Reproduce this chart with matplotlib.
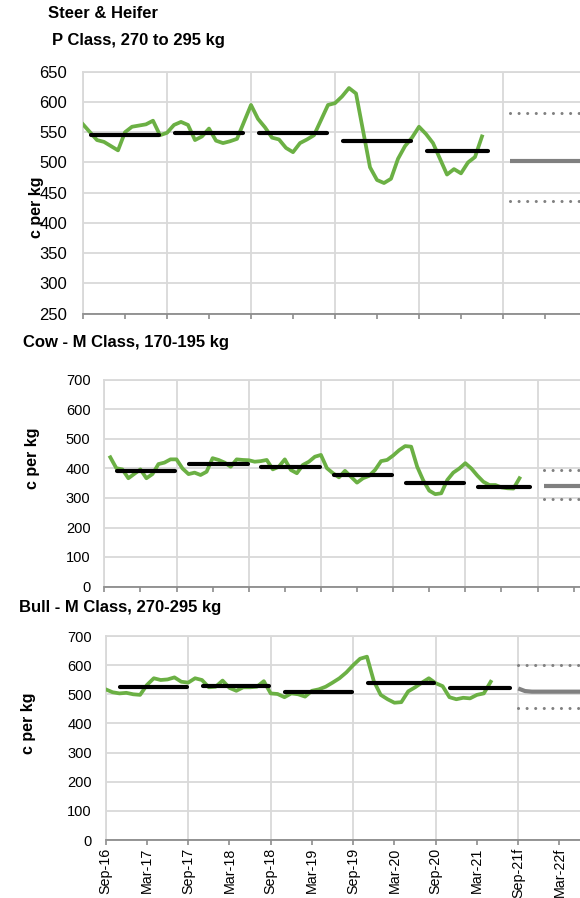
import matplotlib
matplotlib.use('Agg')
import matplotlib.pyplot as plt
import numpy as np

plt.rcParams['font.family'] = ['Liberation Sans', 'DejaVu Sans']

W, H = 580, 898

# ---------------- data ----------------
# Steer & Heifer (months from Sep-16)
steer_start = 0
steer = [563, 550, 537, 534, 527, 520, 550, 559, 561, 563, 569, 545,
         549, 562, 567, 562, 537, 543, 556, 536, 532, 535, 539, 567,
         595, 572, 558, 541, 538, 524, 517, 532, 538, 545, 570, 595,
         598, 609, 623, 614, 553, 492, 471, 466, 473, 506, 527, 541,
         559, 547, 532, 506, 480, 489, 482, 500, 509, 543]
steer_avg = [545, 549, 548, 536, 519]
steer_fc_start = 61
steer_fc = [502] * 12
steer_fc_hi = [581] * 12
steer_fc_lo = [437] * 12

# Cow (months from Sep-15)
cow_start = 1
cow = [438, 401, 397, 367, 382, 397, 367, 381, 415, 420, 431, 431,
       400, 381, 386, 378, 389, 435, 429, 420, 406, 431, 429, 428,
       423, 425, 429, 397, 406, 431, 395, 384, 412, 423, 440, 446,
       401, 384, 370, 392, 372, 352, 367, 375, 395, 425, 429, 444,
       462, 476, 474, 406, 360, 325, 313, 316, 361, 386, 400, 418,
       400, 376, 355, 344, 344, 336, 333, 332, 367]
cow_avg = [393, 414, 404, 378, 350, 338]
cow_fc_start = 73
cow_fc = [342] * 12
cow_fc_hi = [395] * 12
cow_fc_lo = [297] * 12

# Bull (months from Sep-16)
bull_start = 0
bull = [517, 507, 503, 505, 500, 498, 532, 555, 549, 551, 558, 543,
        540, 555, 549, 524, 526, 547, 522, 512, 524, 524, 526, 545,
        503, 501, 490, 503, 500, 492, 512, 517, 526, 540, 555, 575,
        600, 622, 629, 545, 498, 483, 471, 473, 510, 524, 540, 555,
        538, 528, 490, 483, 488, 486, 498, 503, 543]
bull_avg = [524, 528, 507, 538, 520]
bull_fc_start = 60
bull_fc = [520, 511, 509, 509, 509, 509, 509, 509, 509, 509, 509, 509, 509]
bull_fc_hi = [600] * 13
bull_fc_lo = [454] * 13

bull_xlabels = ['Sep-16', 'Mar-17', 'Sep-17', 'Mar-18', 'Sep-18', 'Mar-19',
                'Sep-19', 'Mar-20', 'Sep-20', 'Mar-21', 'Sep-21f', 'Mar-22f', '']

GREEN = '#6BB044'
GRID = '#D9D9D9'
AXIS = '#8C8C8C'
FC = '#808080'

fig = plt.figure(figsize=(W / 100, H / 100), dpi=100)


def make_ax(left, top, right, bottom):
    return fig.add_axes([left / W, 1 - bottom / H, (right - left) / W, (bottom - top) / H])


def style(ax, xmax, ylo, yhi, ystep, ysize, ypad, labels=None):
    ax.set_xlim(0, xmax)
    ax.set_ylim(ylo, yhi)
    ax.set_yticks(np.arange(ylo, yhi + 1, ystep))
    ax.yaxis.grid(True, color=GRID, lw=1.3)
    ax.set_axisbelow(True)
    for m in range(0, xmax + 1, 12):
        ax.axvline(m, color=GRID, lw=1.3, zorder=0)
    ax.set_xticks(range(0, xmax + 1, 6))
    if labels is None:
        ax.set_xticklabels([])
    else:
        ax.set_xticklabels(labels, rotation=90, fontsize=10.3)
    ax.tick_params(axis='x', length=3.5, width=1.2, color=AXIS, pad=2)
    ax.tick_params(axis='y', length=0, pad=ypad, labelsize=ysize)
    ax.spines['right'].set_visible(False)
    ax.spines['top'].set_color(GRID)
    ax.spines['top'].set_linewidth(1.3)
    ax.spines['left'].set_color(GRID)
    ax.spines['left'].set_linewidth(1.3)
    ax.spines['bottom'].set_color(AXIS)
    ax.spines['bottom'].set_linewidth(1.3)
    ax.spines['bottom'].set_zorder(5)


def draw(ax, start, series, avg, seg_a, seg_b, last_end, fc_start, fc, hi, lo):
    x = np.arange(start, start + len(series))
    ax.plot(x, series, color=GREEN, lw=2.7, solid_joinstyle='round', zorder=3)
    for k, v in enumerate(avg):
        a = 12 * k + seg_a
        b = 12 * k + seg_b if k < len(avg) - 1 else last_end
        ax.plot([a, b], [v, v], color='black', lw=3.0, solid_capstyle='round', zorder=4)
    xf = np.arange(fc_start, fc_start + len(fc))
    ax.plot(xf, fc, color=FC, lw=3.0, solid_capstyle='butt', zorder=3)
    for s in (hi, lo):
        ax.plot(xf, s, color=FC, lw=2.2, dashes=(0.01, 2.8), dash_capstyle='round', zorder=3)


# top
ax1 = make_ax(83, 71.7, 83 + 72 * 7.0, 313.7)
style(ax1, 72, 250, 650, 50, 12, 11.5)
draw(ax1, steer_start, steer, steer_avg, 1.1, 10.8, 57.8, steer_fc_start, steer_fc, steer_fc_hi, steer_fc_lo)

# middle
ax2 = make_ax(104.3, 380, 104.3 + 84 * 6.017, 586.5)
style(ax2, 84, 0, 700, 100, 10.5, 10)
draw(ax2, cow_start, cow, cow_avg, 2.1, 11.8, 70.8, cow_fc_start, cow_fc, cow_fc_hi, cow_fc_lo)

# bottom
ax3 = make_ax(105.7, 636, 105.7 + 72 * 6.875, 840)
style(ax3, 72, 0, 700, 100, 10.5, 10, labels=bull_xlabels)
draw(ax3, bull_start, bull, bull_avg, 2.1, 11.8, 58.8, bull_fc_start, bull_fc, bull_fc_hi, bull_fc_lo)

# titles
fig.text(48 / W, 1 - 14 / H, 'Steer & Heifer', fontsize=12, fontweight='bold', ha='left', va='center')
fig.text(52 / W, 1 - 41 / H, 'P Class, 270 to 295 kg', fontsize=12, fontweight='bold', ha='left', va='center')
fig.text(23 / W, 1 - 343 / H, 'Cow - M Class, 170-195 kg', fontsize=12, fontweight='bold', ha='left', va='center')
fig.text(19 / W, 1 - 607.5 / H, 'Bull - M Class, 270-295 kg', fontsize=12, fontweight='bold', ha='left', va='center')

for (xc, yc) in [(37, 207), (32, 458), (29, 723)]:
    fig.text(xc / W, 1 - yc / H, 'c per kg', fontsize=11.5, fontweight='bold', rotation=90,
             ha='center', va='center', zorder=10)

fig.savefig('out.png', dpi=100)
